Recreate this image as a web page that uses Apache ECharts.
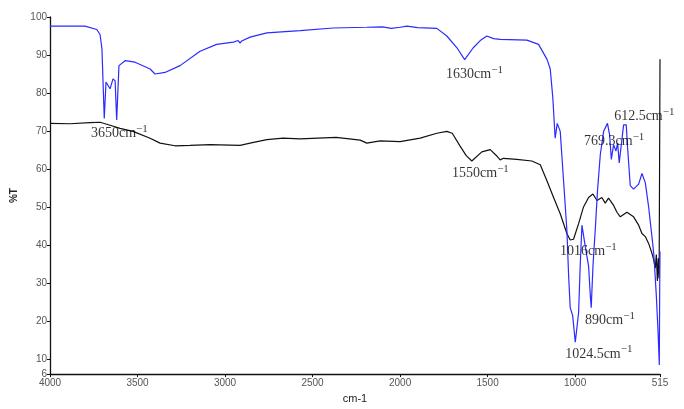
<!DOCTYPE html>
<html><head><meta charset="utf-8">
<script src="https://cdn.jsdelivr.net/npm/echarts@6/dist/echarts.min.js"></script>
<style>html,body{margin:0;padding:0;background:#fff}#c{width:684px;height:409px}</style>
</head><body><div id="c"></div>
<script>
// Wavenumber (cm-1) and %T for the blue spectrum
const blueWave = [4000,3800,3733,3714,3703,3697,3690,3680,3657,3640,3628,3619,3606,3571,3514,3428,3400,3343,3257,3143,3048,2952,2925,2914,2905,2857,2761,2571,2382,2190,2100,2050,2000,1960,1900,1790,1733,1675,1631,1582,1542,1504,1466,1428,1275,1209,1161,1142,1127,1114,1102,1085,1066,1047,1037,1028,1019,1014,999,980,971,961,952,942,923,913,908,898,891,885,872,856,837,815,803,793,780,767,757,748,736,723,708,700,685,666,637,618,599,580,561,551,546,536,526,519,517,515];
const blueT    = [97.6,97.6,96.7,95.4,91.5,82.9,73.3,82.9,81.1,83.7,83.2,72.9,87.2,88.5,88.1,86.3,85.0,85.4,87.2,91.0,92.8,93.4,93.8,93.1,93.7,94.7,95.8,96.4,97.1,97.3,97.4,97.0,97.3,97.6,97.2,97.0,95.0,91.9,88.8,91.9,93.8,95.0,94.3,94.1,93.9,92.8,88.9,86.3,78.5,68.1,72.0,69.9,56.9,43.9,31.8,23.5,23.2,21.4,14.4,22.2,34.4,45.2,44.8,39.6,34.4,26.6,23.5,34.4,39.6,43.9,54.3,63.8,69.9,72.0,69.0,62.5,66.4,64.7,66.8,61.6,66.4,71.6,71.6,65.5,55.6,54.7,56.0,58.8,56.4,50.0,42.2,37.8,34.4,26.6,17.0,8.4,26.6,38.3];
// Wavenumber (cm-1) and %T for the black spectrum
const blackWave = [4000,3886,3771,3714,3657,3600,3526,3428,3371,3286,3200,3085,2914,2857,2761,2668,2571,2365,2228,2190,2114,2000,1885,1790,1733,1702,1657,1622,1590,1533,1485,1447,1428,1409,1333,1247,1199,1161,1123,1085,1047,1028,1009,980,952,923,898,875,847,828,809,780,761,742,704,666,637,618,599,580,561,551,542,536,530,525,520,516,515];
const blackT    = [72.0,71.9,72.2,72.3,71.5,70.7,69.9,68.1,66.8,66.1,66.2,66.4,66.2,66.8,67.7,68.1,67.9,68.3,67.6,66.8,67.4,67.2,68.1,69.4,69.9,69.4,66.0,63.5,62.1,64.5,65.1,63.4,62.4,62.8,62.5,62.1,61.1,56.9,52.5,48.2,43.0,41.3,41.5,45.6,50.0,52.5,53.4,51.7,52.5,51.0,52.3,50.4,48.6,47.4,48.6,47.4,45.2,43.0,42.2,40.4,37.8,36.1,33.9,37.5,30.5,36.5,31.2,31.0,88.9];
// Tick labels
const xTicks = [4000,3500,3000,2500,2000,1500,1000,515];
const yTicks = [6,10,20,30,40,50,60,70,80,90,100];
// Peak annotations: label text and anchor (wavenumber, %T)
const annotText = ['3650','1630','1550','769.3','612.5','1016','890','1024.5'];
const annotWave = [3766,1737,1703,949,777,1086,943,1057];
const annotT    = [69.4,84.8,58.8,67.3,73.8,38.3,20.1,11.3];

const zip = (a,b)=>a.map((v,i)=>[v,b[i]]);
const chart = echarts.init(document.getElementById('c'), null, {renderer:'canvas'});
const axisLabelStyle = {color:'#555', fontFamily:'Liberation Sans, Arial', fontSize:10, formatter:v=>String(v)};
chart.setOption({
  animation:false,
  backgroundColor:'#fff',
  grid:{left:50, right:24, top:17, bottom:30, containLabel:false},
  xAxis:{
    type:'value', inverse:true, min:515, max:4000,
    name:'cm-1', nameLocation:'middle', nameGap:13,
    nameTextStyle:{color:'#222', fontFamily:'Liberation Sans, Arial', fontSize:11},
    axisLine:{lineStyle:{color:'#111', width:1.3}},
    axisTick:{show:true, length:3, customValues:xTicks, lineStyle:{color:'#111'}},
    axisLabel:{customValues:xTicks, margin:4, ...axisLabelStyle},
    splitLine:{show:false}
  },
  yAxis:{
    type:'value', min:6, max:100,
    name:'%T', nameLocation:'middle', nameGap:28, nameRotate:90,
    nameTextStyle:{color:'#222', fontFamily:'Liberation Sans, Arial', fontSize:10, fontWeight:'bold'},
    axisLine:{show:true, lineStyle:{color:'#111', width:1.3}},
    axisTick:{show:true, length:3, customValues:yTicks, lineStyle:{color:'#111'}},
    axisLabel:{customValues:yTicks, margin:3, ...axisLabelStyle},
    splitLine:{show:false}
  },
  series:[
    {type:'line', data:zip(blueWave,blueT), showSymbol:false, symbol:'none',
     lineStyle:{color:'#2b2bff', width:1.2}, z:3},
    {type:'line', data:zip(blackWave,blackT), showSymbol:false, symbol:'none',
     lineStyle:{color:'#111', width:1.2}, z:2},
    {type:'scatter', data:annotWave.map((w,i)=>({value:[w,annotT[i]], name:annotText[i]})),
     symbolSize:0, z:5, silent:true,
     label:{show:true, position:'right', distance:0,
       formatter:p=>'{a|'+p.name+'cm}{s|\u22121}',
       rich:{
         a:{fontFamily:'Liberation Serif, Times New Roman', fontSize:14, color:'#000'},
         s:{fontFamily:'Liberation Serif, Times New Roman', fontSize:11, color:'#000', padding:[0,0,9,0]}
       }}
    }
  ]
});
</script></body></html>
